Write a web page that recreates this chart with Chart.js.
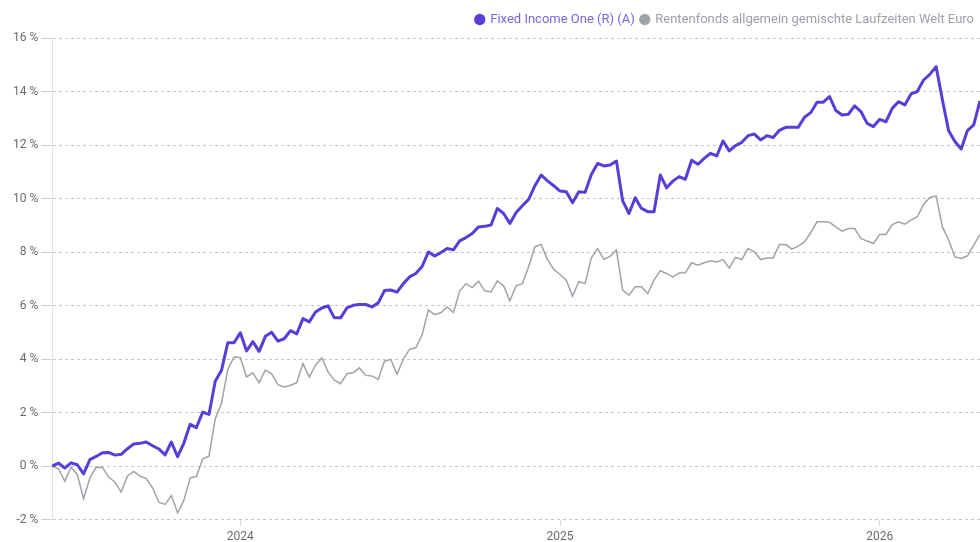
<!DOCTYPE html>
<html>
<head>
<meta charset="utf-8">
<script src="https://cdn.jsdelivr.net/npm/chart.js@4.4.1/dist/chart.umd.min.js"></script>
<style>
html,body{margin:0;padding:0;background:#fff;overflow:hidden;width:980px;height:542px}
#wrap{width:980px;height:548px;position:relative}
</style>
</head>
<body>
<div id="wrap"><canvas id="c"></canvas></div>
<script>
const seriesNames = ['Fixed Income One (R) (A)', 'Rentenfonds allgemein gemischte Laufzeiten Welt Euro'];

const fundValues = [
  0.00, 0.11, -0.07, 0.12, 0.05, -0.29, 0.24, 0.36, 0.50, 0.51,
  0.41, 0.44, 0.65, 0.83, 0.85, 0.90, 0.76, 0.64, 0.42, 0.90,
  0.35, 0.86, 1.56, 1.44, 2.02, 1.93, 3.17, 3.58, 4.61, 4.61,
  4.98, 4.30, 4.65, 4.29, 4.85, 5.00, 4.67, 4.76, 5.06, 4.94,
  5.51, 5.39, 5.76, 5.91, 5.99, 5.54, 5.54, 5.91, 6.01, 6.04,
  6.04, 5.95, 6.10, 6.56, 6.58, 6.50, 6.82, 7.07, 7.20, 7.46,
  8.00, 7.85, 7.98, 8.13, 8.08, 8.42, 8.54, 8.69, 8.94, 8.96,
  9.01, 9.63, 9.44, 9.07, 9.48, 9.73, 9.97, 10.48, 10.88, 10.66,
  10.48, 10.28, 10.25, 9.84, 10.25, 10.23, 10.90, 11.31, 11.22, 11.25,
  11.40, 9.91, 9.44, 10.03, 9.63, 9.51, 9.51, 10.88, 10.40, 10.65,
  10.82, 10.72, 11.43, 11.28, 11.50, 11.69, 11.59, 12.15, 11.78, 11.98,
  12.10, 12.35, 12.41, 12.19, 12.35, 12.28, 12.55, 12.66, 12.66, 12.66,
  13.04, 13.21, 13.60, 13.60, 13.81, 13.29, 13.12, 13.15, 13.46, 13.25,
  12.81, 12.69, 12.96, 12.87, 13.37, 13.62, 13.50, 13.91, 14.00, 14.43,
  14.64, 14.93, 13.69, 12.53, 12.13, 11.85, 12.54, 12.75, 13.65
];

const peerValues = [
  0.00, -0.10, -0.57, -0.04, -0.32, -1.22, -0.45, -0.04, -0.05, -0.41,
  -0.60, -0.97, -0.37, -0.20, -0.37, -0.47, -0.81, -1.35, -1.43, -1.10,
  -1.75, -1.28, -0.44, -0.39, 0.27, 0.37, 1.76, 2.35, 3.61, 4.08,
  4.06, 3.33, 3.49, 3.12, 3.59, 3.45, 3.04, 2.96, 3.02, 3.12,
  3.83, 3.33, 3.77, 4.04, 3.52, 3.21, 3.08, 3.45, 3.49, 3.67,
  3.39, 3.37, 3.24, 3.92, 3.99, 3.43, 3.99, 4.37, 4.42, 4.91,
  5.83, 5.66, 5.73, 5.95, 5.74, 6.54, 6.82, 6.67, 6.91, 6.55,
  6.51, 6.92, 6.74, 6.18, 6.74, 6.82, 7.45, 8.20, 8.28, 7.72,
  7.35, 7.16, 6.95, 6.35, 6.89, 6.82, 7.78, 8.13, 7.73, 7.84,
  8.07, 6.58, 6.39, 6.70, 6.70, 6.45, 6.95, 7.30, 7.20, 7.07,
  7.22, 7.23, 7.60, 7.51, 7.60, 7.67, 7.63, 7.72, 7.41, 7.80,
  7.72, 8.13, 8.01, 7.72, 7.78, 7.78, 8.28, 8.28, 8.11, 8.22,
  8.38, 8.73, 9.13, 9.13, 9.11, 8.94, 8.78, 8.88, 8.88, 8.51,
  8.41, 8.32, 8.66, 8.66, 9.03, 9.13, 9.04, 9.19, 9.32, 9.78,
  10.04, 10.10, 8.94, 8.45, 7.82, 7.76, 7.86, 8.26, 8.66
];

// categories: one per weekly observation
const categories = fundValues.map((_, i) => i);

// x-axis tick labels and the observation where each year begins
const yearTickLabels = ['2024', '2025', '2026'];
const yearTickIndex = [30, 81, 132];

const lineColors = ['#5a3dd6', '#a0a3aa'];
const legendTextColors = ['#7a64e0', '#9c9fa6'];

Chart.defaults.font.family = 'Roboto, "Open Sans", sans-serif';
Chart.defaults.font.size = 12;

const yearAt = {};
yearTickIndex.forEach((idx, k) => { yearAt[idx] = yearTickLabels[k]; });

// small extra gap under the legend
const legendGap = {
  id: 'legendGap',
  beforeInit(chart) {
    const origFit = chart.legend.fit;
    chart.legend.fit = function () {
      origFit.call(this);
      this.height += 2;
    };
  }
};

new Chart(document.getElementById('c'), {
  type: 'line',
  plugins: [legendGap],
  data: {
    labels: categories,
    datasets: [
      {
        label: seriesNames[0],
        data: fundValues,
        borderColor: lineColors[0],
        backgroundColor: lineColors[0],
        borderWidth: 3,
        pointRadius: 0,
        tension: 0,
        borderJoinStyle: 'round',
        fill: false
      },
      {
        label: seriesNames[1],
        data: peerValues,
        borderColor: lineColors[1],
        backgroundColor: lineColors[1],
        borderWidth: 1.5,
        pointRadius: 0,
        tension: 0,
        fill: false
      }
    ]
  },
  options: {
    responsive: true,
    maintainAspectRatio: false,
    animation: false,
    layout: { padding: { top: 7, left: 10, right: 0, bottom: 0 } },
    plugins: {
      tooltip: { enabled: false },
      legend: {
        position: 'top',
        align: 'end',
        labels: {
          usePointStyle: true,
          pointStyle: 'circle',
          boxWidth: 8,
          boxHeight: 8,
          padding: 6,
          font: { size: 13 },
          generateLabels(chart) {
            const items = Chart.defaults.plugins.legend.labels.generateLabels(chart);
            items.forEach((it, i) => {
              it.fontColor = legendTextColors[i];
              it.fillStyle = lineColors[i];
              it.strokeStyle = lineColors[i];
              it.lineWidth = 0;
              it.pointStyle = 'circle';
            });
            return items;
          }
        }
      }
    },
    scales: {
      x: {
        type: 'category',
        offset: false,
        border: { display: false },
        grid: {
          display: true,
          drawOnChartArea: false,
          drawTicks: true,
          tickLength: 6,
          tickColor: '#d6d6d6',
          tickBorderDash: []
        },
        ticks: {
          autoSkip: false,
          maxRotation: 0,
          minRotation: 0,
          padding: 4,
          color: '#6b6b6b',
          font: { size: 12 },
          callback: (value, index) => (yearAt[index] !== undefined ? yearAt[index] : null)
        }
      },
      y: {
        min: -2,
        max: 16,
        border: { display: true, color: '#e2e2e2', width: 1, dash: [3, 3] },
        grid: {
          color: '#c6c6c6',
          lineWidth: 1,
          drawTicks: true,
          tickLength: 11,
          tickColor: '#cfcfcf',
          tickBorderDash: []
        },
        ticks: {
          stepSize: 2,
          padding: 3,
          color: '#6b6b6b',
          font: { size: 12 },
          callback: (v) => v + ' %'
        }
      }
    }
  }
});
</script>
</body>
</html>
